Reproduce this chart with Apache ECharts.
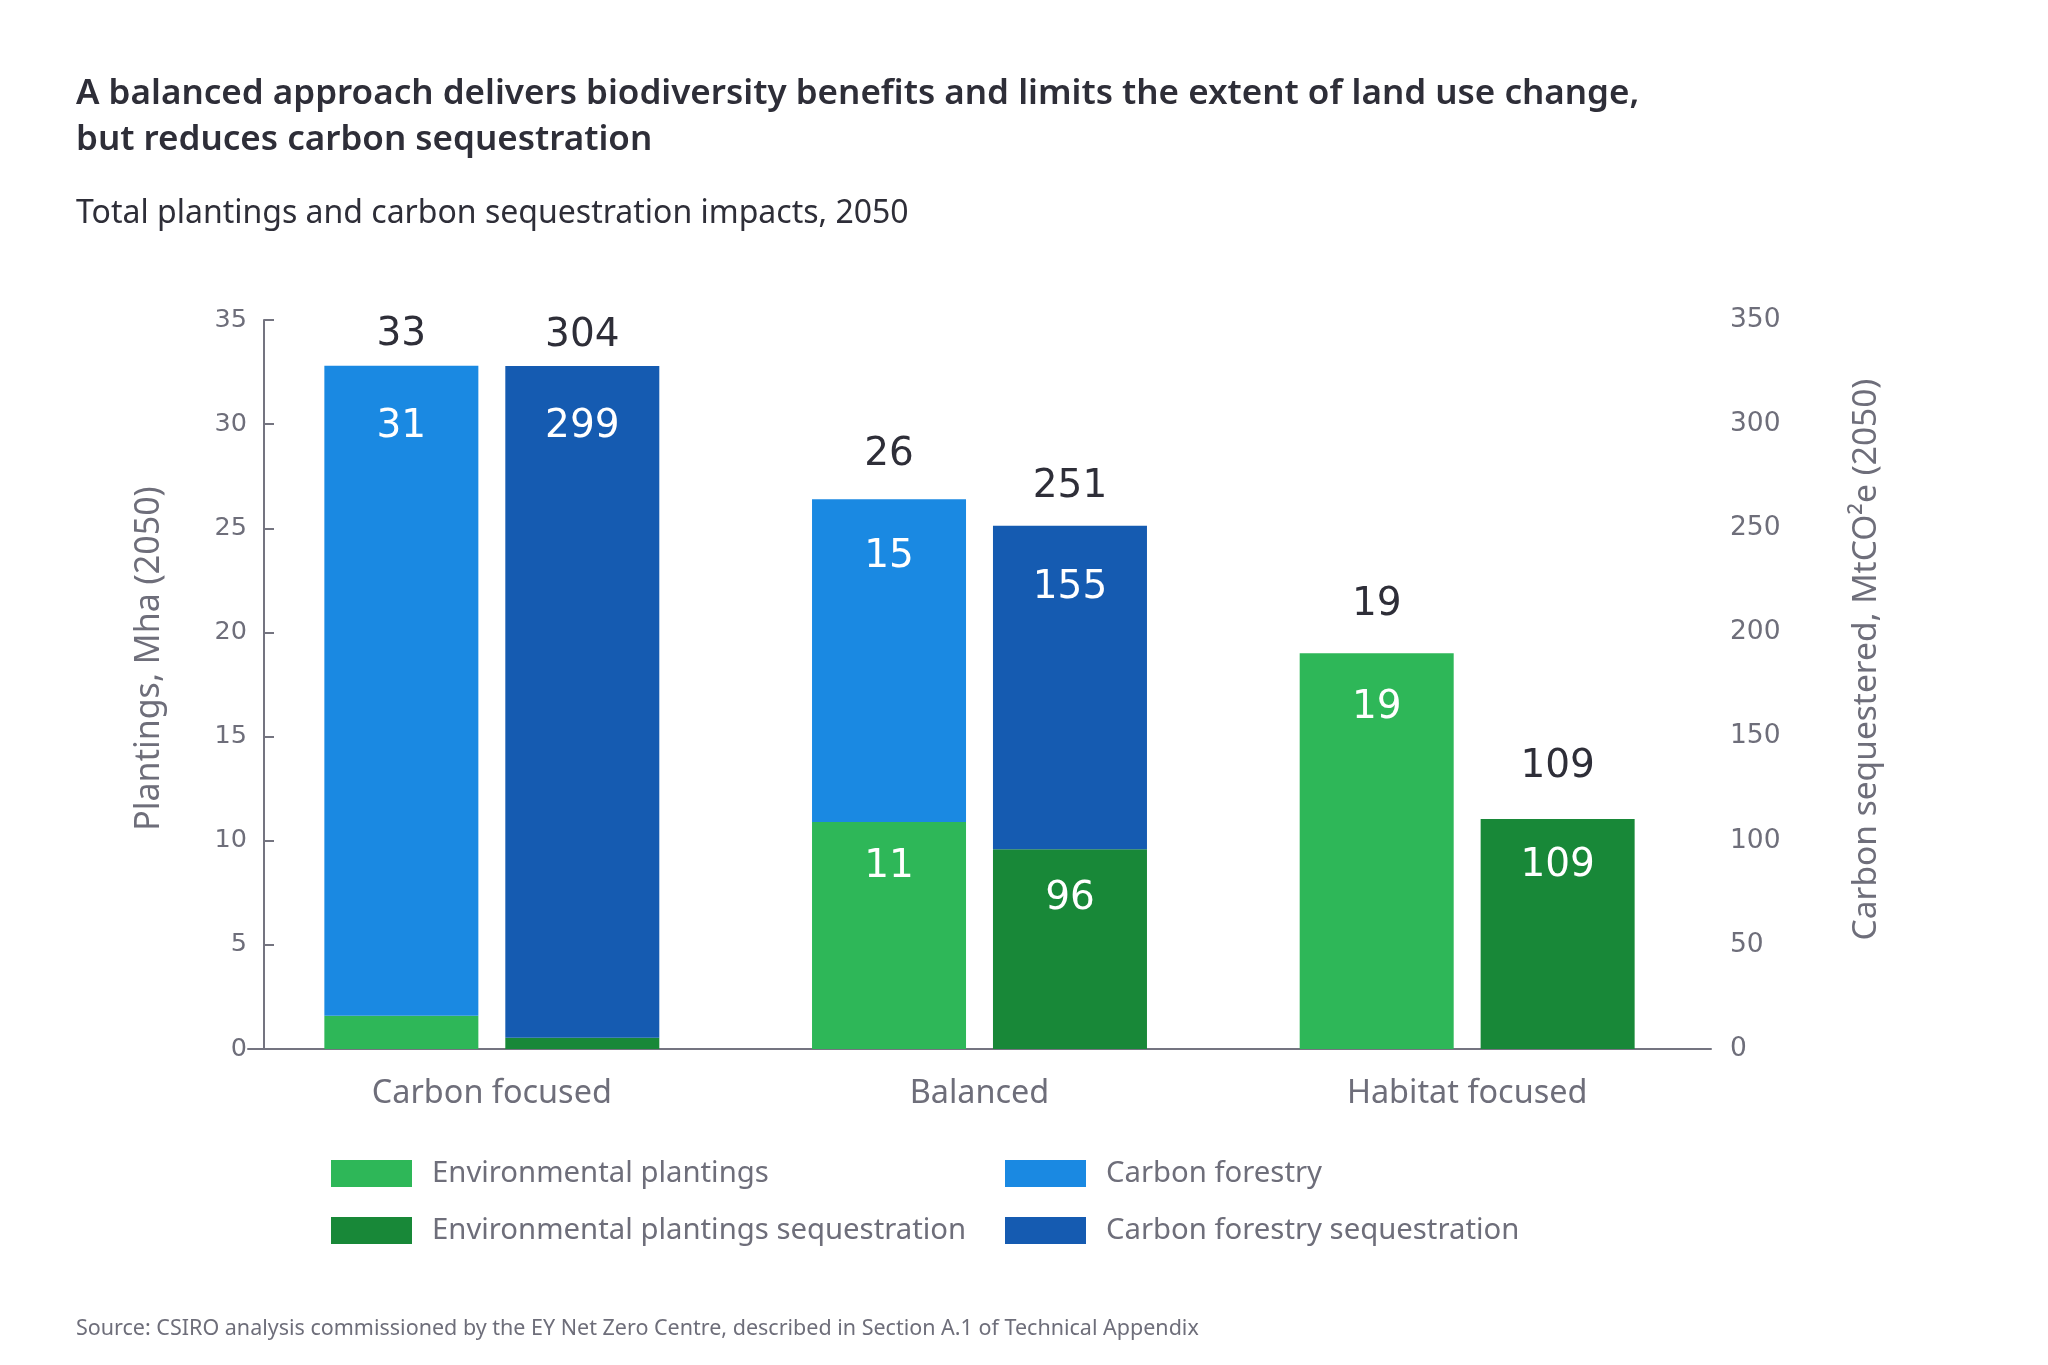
<!DOCTYPE html>
<html>
<head>
<meta charset="utf-8">
<style>
  html, body { margin: 0; padding: 0; background: #ffffff; }
  #chart { width: 2048px; height: 1365px; }
</style>
<script src="https://cdn.jsdelivr.net/npm/echarts@6/dist/echarts.min.js"></script>
</head>
<body>
<div id="chart"></div>
<script>
// ---- Data ----
const categories = ['Carbon focused', 'Balanced', 'Habitat focused'];
const leftTicks = [0, 5, 10, 15, 20, 25, 30, 35];
const rightTicks = [0, 50, 100, 150, 200, 250, 300, 350];

// Plantings, Mha (left axis)
const envPlantings = [1.6, 10.9, 19.0];
const carbonForestry = [31.2, 15.5, 0];
// Carbon sequestered, MtCO2e (right axis)
const envPlantingsSeq = [5.4, 95.9, 110.4];
const carbonForestrySeq = [322.5, 155.3, 0];

// Printed labels
const envPlantingsLabels = ['', '11', '19'];
const carbonForestryLabels = ['31', '15', ''];
const envPlantingsSeqLabels = ['', '96', '109'];
const carbonForestrySeqLabels = ['299', '155', ''];
const plantingsTotals = ['33', '26', '19'];
const seqTotals = ['304', '251', '109'];
const stackTops = [0, 0, 0];

// ---- Styles (label offsets in px, not data) ----
const gapEnv = [26, 25, 35];
const gapCF = [42, 38, 38];
const gapEnvSeq = [26, 30, 27];
const gapCFSeq = [41, 43, 43];
const gapPlantTotal = [11, 25, 29];
const gapSeqTotal = [11, 19, 33];

const C_ENV = '#2eb758';
const C_ENV_SEQ = '#188838';
const C_CF = '#1a89e2';
const C_CF_SEQ = '#155bb1';
const TXT_DARK = '#2e2e38';
const TXT_GRAY = '#6e6e7a';
const AXIS_GRAY = '#747480';
const NUM_FONT = 'DejaVu Sans';
const TXT_FONT = 'Noto Sans';

const chart = echarts.init(document.getElementById('chart'), null, { renderer: 'canvas' });

function withGaps(values, gaps) {
  return values.map((v, i) => ({ value: v, label: { distance: gaps[i] } }));
}
function innerLabel(arr) {
  return {
    show: true, position: 'insideTop',
    color: '#ffffff', fontFamily: NUM_FONT, fontSize: 39,
    formatter: p => arr[p.dataIndex]
  };
}
function topLabel(arr) {
  return {
    show: true, position: 'top',
    color: TXT_DARK, fontFamily: NUM_FONT, fontSize: 39,
    formatter: p => arr[p.dataIndex]
  };
}

const BW = 154;

chart.setOption({
  backgroundColor: '#ffffff',
  animation: false,
  title: [
    {
      text: 'A balanced approach delivers biodiversity benefits and limits the extent of land use change,\nbut reduces carbon sequestration',
      left: 76, top: 71, padding: 0,
      textStyle: { fontFamily: TXT_FONT, fontWeight: 600, fontSize: 35, lineHeight: 46, color: TXT_DARK }
    },
    {
      text: 'Total plantings and carbon sequestration impacts, 2050',
      left: 76, top: 198, padding: 0,
      textStyle: { fontFamily: TXT_FONT, fontWeight: 'normal', fontSize: 32, color: TXT_DARK }
    },
    {
      text: 'Source: CSIRO analysis commissioned by the EY Net Zero Centre, described in Section A.1 of Technical Appendix',
      left: 76, top: 1318, padding: 0,
      textStyle: { fontFamily: TXT_FONT, fontWeight: 'normal', fontSize: 21.5, color: TXT_GRAY }
    }
  ],
  legend: [
    {
      orient: 'vertical', left: 326, top: 1154,
      itemWidth: 81, itemHeight: 27, itemGap: 28,
      icon: 'rect',
      data: ['Environmental plantings', 'Environmental plantings sequestration'],
      textStyle: { fontFamily: TXT_FONT, fontSize: 29.3, color: TXT_GRAY, padding: [0, 0, 0, 15] }
    },
    {
      orient: 'vertical', left: 1000, top: 1154,
      itemWidth: 81, itemHeight: 27, itemGap: 28,
      icon: 'rect',
      data: ['Carbon forestry', 'Carbon forestry sequestration'],
      textStyle: { fontFamily: TXT_FONT, fontSize: 29.3, color: TXT_GRAY, padding: [0, 0, 0, 15] }
    }
  ],
  grid: { left: 248, right: 2048 - 1711, top: 320, bottom: 1365 - 1049, containLabel: false },
  xAxis: {
    type: 'category',
    data: categories,
    axisLine: { show: true, lineStyle: { color: AXIS_GRAY, width: 2 } },
    axisTick: { show: false },
    axisLabel: { fontFamily: TXT_FONT, fontSize: 32.4, color: TXT_GRAY, margin: 29 }
  },
  yAxis: [
    {
      type: 'value', min: 0, max: 35, interval: 5,
      position: 'left', offset: -16,
      name: 'Plantings, Mha (2050)',
      nameLocation: 'middle', nameRotate: 90, nameGap: 98,
      nameTextStyle: { fontFamily: TXT_FONT, fontSize: 34, color: TXT_GRAY, padding: [0, 0, 0, 52] },
      axisLine: { show: true, lineStyle: { color: AXIS_GRAY, width: 2 } },
      axisTick: { show: true, inside: true, length: 10, lineStyle: { color: AXIS_GRAY, width: 2 } },
      axisLabel: {
        fontFamily: NUM_FONT, fontSize: 25.5, color: TXT_GRAY, margin: 17, padding: [6, 0, 0, 0],
        formatter: v => leftTicks.includes(v) ? String(v) : ''
      },
      splitLine: { show: false }
    },
    {
      type: 'value', min: 0, max: 350, interval: 50,
      position: 'right', offset: 0,
      name: 'Carbon sequestered, MtCO²e (2050)',
      nameLocation: 'middle', nameRotate: 90, nameGap: 138,
      nameTextStyle: { fontFamily: TXT_FONT, fontSize: 33.5, color: TXT_GRAY, padding: [0, 0, 0, 50] },
      axisLine: { show: false },
      axisTick: { show: false },
      axisLabel: {
        fontFamily: NUM_FONT, fontSize: 26.5, color: TXT_GRAY, margin: 19, padding: [6, 0, 0, 0],
        formatter: v => rightTicks.includes(v) ? String(v) : ''
      },
      splitLine: { show: false }
    }
  ],
  series: [
    {
      name: 'Environmental plantings', type: 'bar', stack: 'plant', yAxisIndex: 0,
      barWidth: BW, barGap: '17.5%',
      itemStyle: { color: C_ENV },
      label: innerLabel(envPlantingsLabels),
      data: withGaps(envPlantings, gapEnv)
    },
    {
      name: 'Carbon forestry', type: 'bar', stack: 'plant', yAxisIndex: 0,
      barWidth: BW, barGap: '17.5%',
      itemStyle: { color: C_CF },
      label: innerLabel(carbonForestryLabels),
      data: withGaps(carbonForestry, gapCF)
    },
    {
      name: 'plantTotal', type: 'bar', stack: 'plant', yAxisIndex: 0,
      barWidth: BW, barGap: '17.5%',
      itemStyle: { color: 'rgba(0,0,0,0)' },
      label: topLabel(plantingsTotals),
      data: withGaps(stackTops, gapPlantTotal)
    },
    {
      name: 'Environmental plantings sequestration', type: 'bar', stack: 'seq', yAxisIndex: 1,
      barWidth: BW, barGap: '17.5%',
      itemStyle: { color: C_ENV_SEQ },
      label: innerLabel(envPlantingsSeqLabels),
      data: withGaps(envPlantingsSeq, gapEnvSeq)
    },
    {
      name: 'Carbon forestry sequestration', type: 'bar', stack: 'seq', yAxisIndex: 1,
      barWidth: BW, barGap: '17.5%',
      itemStyle: { color: C_CF_SEQ },
      label: innerLabel(carbonForestrySeqLabels),
      data: withGaps(carbonForestrySeq, gapCFSeq)
    },
    {
      name: 'seqTotal', type: 'bar', stack: 'seq', yAxisIndex: 1,
      barWidth: BW, barGap: '17.5%',
      itemStyle: { color: 'rgba(0,0,0,0)' },
      label: topLabel(seqTotals),
      data: withGaps(stackTops, gapSeqTotal)
    }
  ]
});
</script>
</body>
</html>
